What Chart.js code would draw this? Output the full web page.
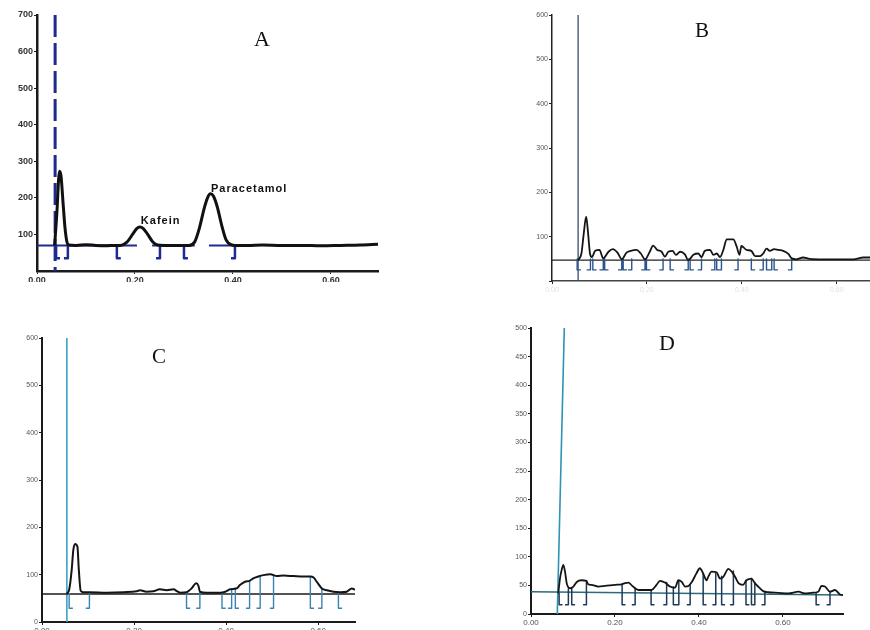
<!DOCTYPE html>
<html>
<head>
<meta charset="utf-8">
<script src="https://cdn.jsdelivr.net/npm/chart.js@4.4.0/dist/chart.umd.min.js"></script>
<style>
    html, body { margin: 0; padding: 0; background: #fff; }
    body { width: 870px; height: 630px; position: relative; overflow: hidden; }
    .painel { position: absolute; overflow: hidden; }
    .painel canvas { display: block; }
</style>
</head>
<body>
<div class="painel" style="left:0;top:0;width:400px;height:282px"><canvas id="grafico-a" width="400" height="300"></canvas></div>
<div class="painel" style="left:500px;top:0;width:370px;height:300px"><canvas id="grafico-b" width="370" height="300"></canvas></div>
<div class="painel" style="left:0;top:320px;width:400px;height:310px"><canvas id="grafico-c" width="400" height="330"></canvas></div>
<div class="painel" style="left:470px;top:320px;width:400px;height:310px"><canvas id="grafico-d" width="400" height="330"></canvas></div>

<script>
// ---- Dados (Rf no eixo X, intensidade no eixo Y) ----

// Painel A: padrão (cafeína + paracetamol)
const aX = [0.036, 0.041, 0.044, 0.046, 0.049, 0.053, 0.057, 0.061, 0.065, 0.08, 0.10, 0.12, 0.14, 0.16, 0.170, 0.183, 0.195, 0.203, 0.210, 0.217, 0.226, 0.236, 0.246, 0.26, 0.28, 0.30, 0.310, 0.322, 0.332, 0.341, 0.348, 0.354, 0.360, 0.368, 0.377, 0.386, 0.396, 0.405, 0.43, 0.46, 0.50, 0.54, 0.58, 0.62, 0.66, 0.696];
const aY = [70, 170, 250, 273, 260, 190, 120, 80, 71, 70, 72, 70, 69, 70, 70, 78, 100, 115, 120, 116, 100, 80, 71, 70, 70, 70, 70, 80, 120, 170, 200, 211, 205, 175, 125, 85, 72, 70, 70, 71, 70, 70, 69, 70, 71, 73];
const aBaseSegmentos = [[0, 0.204], [0.235, 0.322], [0.351, 0.408]];
const aBaseNivel = 70;
const aColcheteX = [0.039, 0.063, 0.163, 0.251, 0.300, 0.404];
const aColcheteLado = ["L", "R", "L", "R", "L", "R"];
const aMarcadorX = 0.037;
const aYTicks = [100, 200, 300, 400, 500, 600, 700];

// Painel B
const bX = [0.055, 0.062, 0.067, 0.072, 0.076, 0.080, 0.084, 0.091, 0.100, 0.108, 0.119, 0.128, 0.138, 0.147, 0.157, 0.166, 0.178, 0.187, 0.196, 0.206, 0.213, 0.222, 0.231, 0.238, 0.245, 0.254, 0.261, 0.270, 0.280, 0.287, 0.298, 0.308, 0.315, 0.322, 0.333, 0.340, 0.347, 0.354, 0.361, 0.368, 0.382, 0.389, 0.395, 0.399, 0.410, 0.420, 0.428, 0.438, 0.445, 0.452, 0.459, 0.468, 0.477, 0.487, 0.498, 0.505, 0.515, 0.529, 0.543, 0.571, 0.599, 0.635, 0.656, 0.670];
const bY = [47, 62, 108, 145, 108, 62, 54, 68, 70, 51, 66, 72, 64, 49, 64, 68, 70, 62, 49, 66, 80, 70, 66, 55, 66, 68, 59, 66, 60, 47, 59, 62, 54, 68, 70, 59, 62, 54, 70, 94, 94, 78, 59, 79, 70, 68, 56, 56, 62, 73, 68, 72, 70, 68, 61, 51, 49, 53, 50, 49, 49, 49, 53, 53];
const bBaseNivel = 47;
const bColcheteX = [0.053, 0.081, 0.086, 0.108, 0.111, 0.147, 0.150, 0.168, 0.196, 0.199, 0.234, 0.249, 0.287, 0.291, 0.315, 0.343, 0.347, 0.357, 0.392, 0.420, 0.445, 0.452, 0.463, 0.468, 0.505];
const bColcheteLado = ["L", "R", "L", "R", "L", "R", "L", "R", "R", "L", "R", "L", "R", "L", "R", "R", "L", "R", "R", "L", "R", "L", "R", "L", "R"];
const bMarcadorX = 0.055;
const bYTicks = [0, 100, 200, 300, 400, 500, 600];

// Painel C
const cX = [0.054, 0.059, 0.0645, 0.068, 0.072, 0.077, 0.080, 0.084, 0.090, 0.104, 0.141, 0.177, 0.206, 0.213, 0.227, 0.242, 0.256, 0.271, 0.286, 0.293, 0.300, 0.314, 0.325, 0.332, 0.336, 0.340, 0.343, 0.358, 0.372, 0.387, 0.398, 0.409, 0.423, 0.430, 0.441, 0.451, 0.459, 0.470, 0.481, 0.496, 0.510, 0.525, 0.546, 0.568, 0.583, 0.590, 0.597, 0.608, 0.619, 0.633, 0.648, 0.662, 0.673, 0.680];
const cY = [60, 68, 110, 152, 165, 159, 110, 66, 63, 63, 62, 63, 65, 67, 64, 65, 69, 67, 69, 65, 62, 63, 71, 80, 82, 76, 64, 62, 62, 62, 64, 69, 71, 78, 85, 87, 92, 96, 99, 101, 97, 98, 97, 96, 96, 94, 85, 71, 67, 64, 63, 64, 71, 68];
const cBaseNivel = 59;
const cColcheteX = [0.059, 0.103, 0.314, 0.343, 0.391, 0.412, 0.420, 0.451, 0.474, 0.503, 0.583, 0.608, 0.644];
const cColcheteLado = ["L", "R", "L", "R", "L", "R", "L", "R", "R", "R", "L", "R", "L"];
const cColcheteTopo = [60, 60, 60, 64, 62, 70, 72, 87, 95, 100, 96, 71, 63];
const cMarcadorX = 0.054;
const cYTicks = [0, 100, 200, 300, 400, 500, 600];

// Painel D
const dX = [0.065, 0.069, 0.073, 0.077, 0.081, 0.085, 0.093, 0.101, 0.109, 0.120, 0.132, 0.136, 0.144, 0.160, 0.176, 0.200, 0.216, 0.224, 0.232, 0.240, 0.248, 0.256, 0.271, 0.287, 0.299, 0.307, 0.319, 0.331, 0.343, 0.351, 0.359, 0.367, 0.375, 0.383, 0.394, 0.402, 0.410, 0.418, 0.422, 0.430, 0.442, 0.450, 0.458, 0.470, 0.478, 0.486, 0.494, 0.505, 0.513, 0.525, 0.533, 0.541, 0.553, 0.565, 0.589, 0.613, 0.637, 0.652, 0.668, 0.684, 0.692, 0.700, 0.712, 0.724, 0.736, 0.744];
const dY = [36, 62, 77, 86, 74, 54, 45, 48, 56, 59, 58, 52, 51, 48, 49, 51, 52, 54, 55, 50, 45, 42, 42, 42, 51, 58, 55, 48, 46, 59, 56, 48, 49, 56, 71, 80, 71, 59, 65, 74, 73, 62, 65, 79, 74, 65, 54, 51, 59, 62, 54, 48, 40, 38, 37, 36, 39, 36, 37, 39, 49, 48, 39, 42, 34, 33];
const dBaseX = [0, 0.743];
const dBaseY = [39, 33];
const dColcheteX = [0.067, 0.089, 0.097, 0.132, 0.217, 0.248, 0.286, 0.323, 0.339, 0.352, 0.379, 0.410, 0.440, 0.454, 0.482, 0.512, 0.525, 0.533, 0.557, 0.679, 0.712];
const dColcheteLado = ["L", "R", "L", "R", "L", "R", "L", "R", "L", "R", "R", "L", "R", "L", "R", "L", "L", "R", "R", "L", "R"];
const dColcheteTopo = [36, 44, 45, 58, 52, 45, 42, 55, 47, 58, 50, 71, 72, 66, 75, 58, 62, 55, 39, 36, 38];
const dMarcadorX = [0.0626, 0.0793];
const dMarcadorY = [0, 500];
const dYTicks = [0, 50, 100, 150, 200, 250, 300, 350, 400, 450, 500];

const xTicks = [0, 0.2, 0.4, 0.6];

// ---- Auxiliares ----
function pontos(xs, ys) {
    return xs.map((x, i) => ({ x: x, y: ys[i] }));
}

// Colchetes de integração: "[" (pé para a direita) e "]" (pé para a esquerda)
function colchetes(xs, lados, topo, fundo, pe) {
    const out = [];
    xs.forEach((x, i) => {
        const t = Array.isArray(topo) ? topo[i] : topo;
        const dx = lados[i] === "L" ? pe : -pe;
        out.push({ x: x, y: t }, { x: x, y: fundo }, { x: x + dx, y: fundo }, { x: x + dx, y: null });
    });
    return out;
}

function segmentos(lista, nivel) {
    const out = [];
    lista.forEach(s => {
        out.push({ x: s[0], y: nivel }, { x: s[1], y: nivel }, { x: s[1], y: null });
    });
    return out;
}

// Plugin simples para escrever textos em coordenadas de dados
const textosPlugin = {
    id: "textos",
    afterDatasetsDraw(chart, args, opts) {
        const ctx = chart.ctx;
        const sx = chart.scales.x, sy = chart.scales.y;
        (opts.itens || []).forEach(t => {
            ctx.save();
            ctx.font = t.font;
            ctx.letterSpacing = t.espaco || "0px";
            ctx.fillStyle = t.cor || "#111";
            ctx.textAlign = t.align || "center";
            ctx.textBaseline = "middle";
            ctx.fillText(t.texto, sx.getPixelForValue(t.x), sy.getPixelForValue(t.y));
            ctx.restore();
        });
    }
};
Chart.register(textosPlugin);

function criarPainel(id, cfg) {
    const canvas = document.getElementById(id);
    return new Chart(canvas, {
        type: "line",
        data: { datasets: cfg.datasets },
        options: {
            responsive: false,
            animation: false,
            devicePixelRatio: 1,
            layout: { padding: cfg.padding },
            elements: { point: { radius: 0 }, line: { fill: false, borderJoinStyle: "round", borderCapStyle: "butt" } },
            plugins: {
                legend: { display: false },
                tooltip: { enabled: false },
                textos: { itens: cfg.textos }
            },
            scales: {
                x: {
                    type: "linear",
                    min: 0,
                    max: cfg.xMax,
                    afterBuildTicks: s => { s.ticks = xTicks.map(v => ({ value: v })); },
                    afterFit: s => { s.height = cfg.xAltura; },
                    ticks: {
                        color: cfg.xCorTexto,
                        font: cfg.fonteX,
                        padding: cfg.xPad,
                        maxRotation: 0,
                        callback: v => v.toFixed(2)
                    },
                    grid: { drawOnChartArea: false, drawTicks: true, tickLength: 3, color: cfg.corEixo },
                    border: { display: true, color: cfg.corEixoX || cfg.corEixo, width: cfg.espEixo }
                },
                y: {
                    min: 0,
                    max: cfg.yMax,
                    afterBuildTicks: s => { s.ticks = cfg.yTicks.map(v => ({ value: v })); },
                    afterFit: s => { s.width = cfg.yLargura; },
                    ticks: {
                        color: cfg.yCorTexto,
                        font: cfg.fonteY,
                        padding: 1,
                        callback: v => (v === 0 && cfg.semZero ? "" : String(v))
                    },
                    grid: { drawOnChartArea: false, drawTicks: true, tickLength: 3, color: cfg.corEixo },
                    border: { display: true, color: cfg.corEixo, width: cfg.espEixo }
                }
            }
        }
    });
}

// ---- Painel A ----
criarPainel("grafico-a", {
    padding: { top: 15, right: 22, left: 0, bottom: 0 },
    xMax: 0.696, yMax: 700, yTicks: aYTicks,
    xAltura: 29, yLargura: 37, xPad: 1,
    corEixo: "#1a1a1a", espEixo: 2.5,
    xCorTexto: "#333", yCorTexto: "#333",
    fonteX: { family: "Liberation Sans", size: 9, weight: "bold" },
    fonteY: { family: "Liberation Sans", size: 9, weight: "bold" },
    textos: [
        { texto: "A", x: 0.459, y: 632, font: "22px 'Liberation Serif'" },
        { texto: "Kafein", x: 0.212, y: 137, align: "left", font: "bold 11px 'Liberation Sans'", espaco: "1px" },
        { texto: "Paracetamol", x: 0.355, y: 224, align: "left", font: "bold 11px 'Liberation Sans'", espaco: "1px" }
    ],
    datasets: [
        { data: pontos(aX, aY), borderColor: "#111", borderWidth: 3, cubicInterpolationMode: "monotone", order: 0 },
        { data: segmentos(aBaseSegmentos, aBaseNivel), borderColor: "#1f2a8f", borderWidth: 2, order: 2 },
        { data: colchetes(aColcheteX, aColcheteLado, aBaseNivel, 35, 0.008), borderColor: "#1f2a8f", borderWidth: 2.5, order: 1 },
        { data: [{ x: aMarcadorX, y: 700 }, { x: aMarcadorX, y: 0 }], borderColor: "#1f2a8f", borderWidth: 3, borderDash: [22, 6], order: 3 }
    ]
});

// ---- Painel B ----
criarPainel("grafico-b", {
    padding: { top: 15, right: 0, left: 0, bottom: 0 },
    xMax: 0.67, yMax: 600, yTicks: bYTicks, semZero: true,
    xAltura: 19, yLargura: 52, xPad: 2,
    corEixo: "#222", corEixoX: "#444", espEixo: 1.5,
    xCorTexto: "#e2e2e2", yCorTexto: "#555",
    fonteX: { family: "Liberation Sans", size: 7 },
    fonteY: { family: "Liberation Sans", size: 7 },
    textos: [
        { texto: "B", x: 0.316, y: 562, font: "21px 'Liberation Serif'" }
    ],
    datasets: [
        { data: pontos(bX, bY), borderColor: "#151515", borderWidth: 1.8, cubicInterpolationMode: "monotone", order: 0 },
        { data: [{ x: 0, y: bBaseNivel }, { x: 0.67, y: bBaseNivel }], borderColor: "#222", borderWidth: 1.3, order: 2 },
        { data: colchetes(bColcheteX, bColcheteLado, 50, 25, 0.008), borderColor: "#2c558f", borderWidth: 1.4, order: 1 },
        { data: [{ x: bMarcadorX, y: 600 }, { x: bMarcadorX, y: 0 }], borderColor: "#3a4d70", borderWidth: 1.3, order: 3 }
    ]
});

// ---- Painel C ----
criarPainel("grafico-c", {
    padding: { top: 18, right: 45, left: 0, bottom: 0 },
    xMax: 0.68, yMax: 600, yTicks: cYTicks,
    xAltura: 28, yLargura: 42, xPad: 1,
    corEixo: "#1a1a1a", espEixo: 2,
    xCorTexto: "#555", yCorTexto: "#555",
    fonteX: { family: "Liberation Sans", size: 8 },
    fonteY: { family: "Liberation Sans", size: 7 },
    textos: [
        { texto: "C", x: 0.254, y: 558, font: "21px 'Liberation Serif'" }
    ],
    datasets: [
        { data: pontos(cX, cY), borderColor: "#151515", borderWidth: 2, cubicInterpolationMode: "monotone", order: 0 },
        { data: [{ x: 0, y: cBaseNivel }, { x: 0.68, y: cBaseNivel }], borderColor: "#1a1a1a", borderWidth: 1.5, order: 2 },
        { data: colchetes(cColcheteX, cColcheteLado, cColcheteTopo, 29, 0.008), borderColor: "#3b84b2", borderWidth: 1.4, order: 1 },
        { data: [{ x: cMarcadorX, y: 600 }, { x: cMarcadorX, y: 0 }], borderColor: "#3aa3c6", borderWidth: 1.6, order: 3 }
    ]
});

// ---- Painel D ----
criarPainel("grafico-d", {
    padding: { top: 8, right: 27, left: 0, bottom: 0 },
    xMax: 0.743, yMax: 500, yTicks: dYTicks,
    xAltura: 36, yLargura: 61, xPad: 1,
    corEixo: "#1a1a1a", espEixo: 2,
    xCorTexto: "#555", yCorTexto: "#555",
    fonteX: { family: "Liberation Sans", size: 8 },
    fonteY: { family: "Liberation Sans", size: 7 },
    textos: [
        { texto: "D", x: 0.324, y: 472, font: "22px 'Liberation Serif'" }
    ],
    datasets: [
        { data: pontos(dX, dY), borderColor: "#151515", borderWidth: 1.8, cubicInterpolationMode: "monotone", order: 0 },
        { data: pontos(dBaseX, dBaseY), borderColor: "#2d6b78", borderWidth: 1.5, order: 2 },
        { data: colchetes(dColcheteX, dColcheteLado, dColcheteTopo, 16, 0.008), borderColor: "#1e3a58", borderWidth: 1.5, order: 1 },
        { data: pontos(dMarcadorX, dMarcadorY), borderColor: "#2f93b5", borderWidth: 1.6, order: 3 }
    ]
});
</script>
</body>
</html>
